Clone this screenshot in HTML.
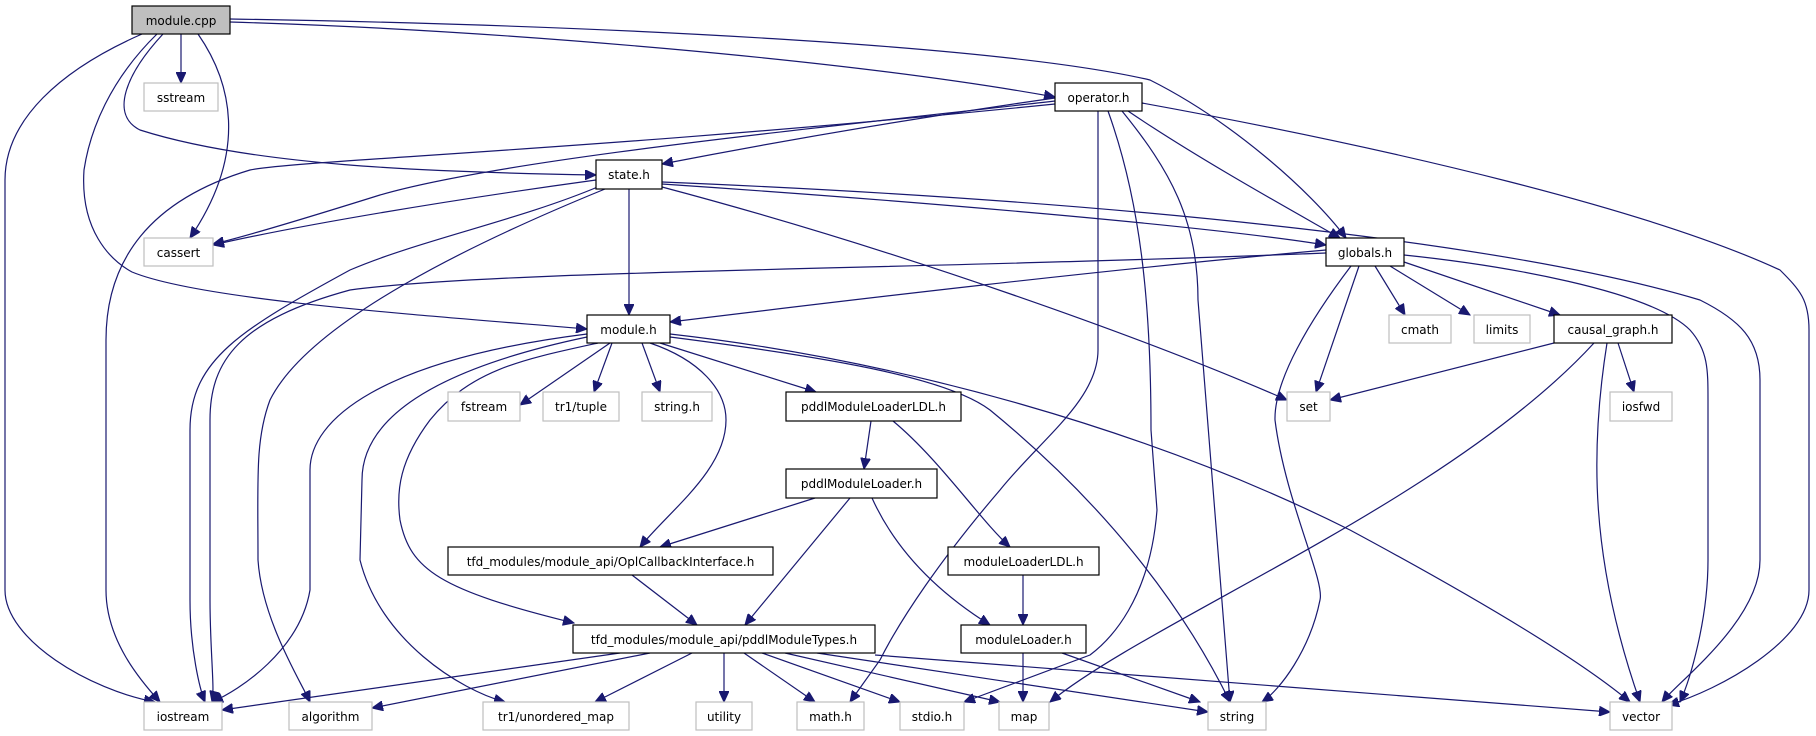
<!DOCTYPE html>
<html><head><meta charset="utf-8"><style>
html,body{margin:0;padding:0;background:#fff;}
svg{display:block;}
text{font-family:"DejaVu Sans","Liberation Sans",sans-serif;font-size:12px;text-anchor:middle;fill:#000;}
.e{fill:none;stroke:#191970;stroke-width:1.2;marker-end:url(#ah);}
.n{fill:#fff;stroke:#000;stroke-width:1.2;}
.x{fill:#fff;stroke:#bfbfbf;stroke-width:1.2;}
</style></head><body>
<svg width="1816" height="736" viewBox="0 0 1816 736" xmlns="http://www.w3.org/2000/svg">
<defs><marker id="ah" markerUnits="userSpaceOnUse" markerWidth="12" markerHeight="10" refX="11" refY="5" orient="auto"><path d="M0,0 L11,5 L0,10 z" fill="#191970" stroke="#191970"/></marker></defs>

<!-- edges from module.cpp -->
<path class="e" d="M181,34 L181,83"/>
<path class="e" d="M198,34 C230,80 250,150 190,238"/>
<path class="e" d="M163,34 C125,75 110,115 140,130 C250,165 420,172 596,175"/>
<path class="e" d="M230,22 C500,30 850,60 1055,97"/>
<path class="e" d="M230,19 C600,25 1000,45 1150,80 C1230,120 1310,190 1346,238"/>
<path class="e" d="M157,34 C110,80 90,130 84,170 C80,230 110,260 132,272 C200,300 420,315 587,329"/>
<path class="e" d="M142,34 C60,70 5,120 5,180 L5,590 C5,640 90,690 155,702"/>

<!-- operator.h -->
<path class="e" d="M1055,98 C900,120 760,145 662,164"/>
<path class="e" d="M1055,101 C800,130 500,160 380,195 C300,220 240,238 213,244"/>
<path class="e" d="M1055,104 C600,150 300,160 250,170 C150,200 106,260 106,340 L106,590 C106,640 140,680 160,702"/>
<path class="e" d="M1128,111 C1200,160 1300,215 1340,238"/>
<path class="e" d="M1142,103 C1400,150 1650,210 1780,270 C1800,290 1809,300 1809,330 L1809,590 C1809,640 1720,690 1668,705"/>
<path class="e" d="M1122,111 C1170,170 1198,220 1198,300 L1230,702"/>
<path class="e" d="M1108,111 C1140,200 1151,300 1151,430 L1157,510 C1150,600 1110,640 1090,655 L964,702"/>
<path class="e" d="M1098,111 L1098,350 C1098,400 1040,440 1000,490 C940,560 900,620 880,660 L850,702"/>

<!-- state.h -->
<path class="e" d="M629,189 L629,315"/>
<path class="e" d="M596,180 C450,200 300,225 213,245"/>
<path class="e" d="M600,186 C520,220 420,240 350,270 C240,330 190,360 190,430 L190,600 C190,650 200,690 205,702"/>
<path class="e" d="M605,189 C480,240 310,320 270,400 C255,440 258,480 258,560 C262,620 300,680 310,702"/>
<path class="e" d="M662,184 C900,200 1200,225 1326,245"/>
<path class="e" d="M662,187 C900,250 1150,340 1287,400"/>
<path class="e" d="M662,182 C1100,200 1500,240 1700,300 C1740,320 1760,340 1760,380 L1760,560 C1760,620 1680,680 1662,702"/>

<!-- globals.h -->
<path class="e" d="M1326,250 C1100,270 850,300 670,322"/>
<path class="e" d="M1326,253 C900,270 500,270 350,290 C240,320 210,360 210,420 L210,600 C210,650 215,690 212,702"/>
<path class="e" d="M1359,266 L1316,392"/>
<path class="e" d="M1351,266 C1310,320 1274,380 1275,420 C1285,500 1325,580 1320,600 C1310,650 1280,690 1262,702"/>
<path class="e" d="M1375,266 L1405,315"/>
<path class="e" d="M1390,266 L1470,315"/>
<path class="e" d="M1404,262 L1560,315"/>
<path class="e" d="M1404,255 C1500,265 1650,290 1690,330 C1708,350 1708,370 1708,400 L1708,560 C1708,620 1690,680 1680,702"/>

<!-- causal_graph.h -->
<path class="e" d="M1554,343 L1330,400"/>
<path class="e" d="M1594,343 C1450,500 1150,620 1050,702"/>
<path class="e" d="M1607,343 C1590,450 1590,560 1640,702"/>
<path class="e" d="M1618,343 L1634,392"/>

<!-- module.h -->
<path class="e" d="M610,343 L520,405"/>
<path class="e" d="M612,343 L594,392"/>
<path class="e" d="M642,343 L660,392"/>
<path class="e" d="M660,343 L816,392"/>
<path class="e" d="M650,343 C700,360 726,390 726,420 C726,470 670,510 640,547"/>
<path class="e" d="M598,343 C520,360 471,370 430,420 C400,460 396,490 400,520 C410,570 440,590 574,623"/>
<path class="e" d="M587,334 C380,360 310,420 310,470 L310,590 C300,650 240,690 212,702"/>
<path class="e" d="M587,337 C430,370 362,420 362,480 L360,560 C380,640 460,690 505,702"/>
<path class="e" d="M670,337 C850,360 950,380 990,410 C1100,500 1180,600 1230,702"/>
<path class="e" d="M670,334 C900,360 1150,430 1350,530 C1480,600 1580,660 1630,702"/>

<!-- loaders -->
<path class="e" d="M871,421 L864,469"/>
<path class="e" d="M893,421 C940,460 980,520 1010,547"/>
<path class="e" d="M815,498 L660,547"/>
<path class="e" d="M850,498 L745,625"/>
<path class="e" d="M872,498 C900,560 950,600 990,625"/>
<path class="e" d="M632,575 L697,625"/>
<path class="e" d="M1023,575 L1023,625"/>
<path class="e" d="M1023,653 L1023,702"/>
<path class="e" d="M1062,653 L1200,702"/>

<!-- pddlModuleTypes.h -->
<path class="e" d="M620,653 L222,710"/>
<path class="e" d="M650,653 L372,708"/>
<path class="e" d="M692,653 L595,702"/>
<path class="e" d="M724,653 L724,702"/>
<path class="e" d="M744,653 L815,702"/>
<path class="e" d="M762,653 L900,702"/>
<path class="e" d="M785,653 L1000,702"/>
<path class="e" d="M817,653 L1208,712"/>
<path class="e" d="M875,655 L1610,712"/>

<!-- nodes -->
<rect x="132" y="6" width="98" height="28" fill="#bfbfbf" stroke="#000" stroke-width="1.2"/><text x="181" y="25">module.cpp</text>
<rect class="x" x="144" y="83" width="74" height="28"/><text x="181" y="102">sstream</text>
<rect class="x" x="144" y="238" width="69" height="28"/><text x="178.5" y="257">cassert</text>
<rect class="n" x="596" y="160" width="66" height="29"/><text x="629" y="179">state.h</text>
<rect class="n" x="587" y="315" width="83" height="28"/><text x="628.5" y="334">module.h</text>
<rect class="n" x="1055" y="83" width="87" height="28"/><text x="1098.5" y="102">operator.h</text>
<rect class="n" x="1326" y="238" width="78" height="28"/><text x="1365" y="257">globals.h</text>
<rect class="x" x="1389" y="315" width="62" height="28"/><text x="1420" y="334">cmath</text>
<rect class="x" x="1474" y="315" width="56" height="28"/><text x="1502" y="334">limits</text>
<rect class="n" x="1554" y="315" width="118" height="28"/><text x="1613" y="334">causal_graph.h</text>
<rect class="x" x="448" y="392" width="72" height="29"/><text x="484" y="411">fstream</text>
<rect class="x" x="543" y="392" width="76" height="29"/><text x="581" y="411">tr1/tuple</text>
<rect class="x" x="642" y="392" width="70" height="29"/><text x="677" y="411">string.h</text>
<rect class="n" x="786" y="392" width="175" height="29"/><text x="873.5" y="411">pddlModuleLoaderLDL.h</text>
<rect class="x" x="1287" y="392" width="43" height="29"/><text x="1308.5" y="411">set</text>
<rect class="x" x="1610" y="392" width="62" height="29"/><text x="1641" y="411">iosfwd</text>
<rect class="n" x="786" y="469" width="151" height="29"/><text x="861.5" y="488">pddlModuleLoader.h</text>
<rect class="n" x="448" y="547" width="325" height="28"/><text x="610.5" y="566">tfd_modules/module_api/OplCallbackInterface.h</text>
<rect class="n" x="948" y="547" width="151" height="28"/><text x="1023.5" y="566">moduleLoaderLDL.h</text>
<rect class="n" x="573" y="625" width="302" height="28"/><text x="724" y="644">tfd_modules/module_api/pddlModuleTypes.h</text>
<rect class="n" x="961" y="625" width="125" height="28"/><text x="1023.5" y="644">moduleLoader.h</text>
<rect class="x" x="144" y="702" width="78" height="28"/><text x="183" y="721">iostream</text>
<rect class="x" x="289" y="702" width="83" height="28"/><text x="330.5" y="721">algorithm</text>
<rect class="x" x="483" y="702" width="146" height="28"/><text x="556" y="721">tr1/unordered_map</text>
<rect class="x" x="696" y="702" width="56" height="28"/><text x="724" y="721">utility</text>
<rect class="x" x="797" y="702" width="67" height="28"/><text x="830.5" y="721">math.h</text>
<rect class="x" x="900" y="702" width="64" height="28"/><text x="932" y="721">stdio.h</text>
<rect class="x" x="999" y="702" width="50" height="28"/><text x="1024" y="721">map</text>
<rect class="x" x="1208" y="702" width="58" height="28"/><text x="1237" y="721">string</text>
<rect class="x" x="1610" y="702" width="62" height="28"/><text x="1641" y="721">vector</text>
</svg>
</body></html>
